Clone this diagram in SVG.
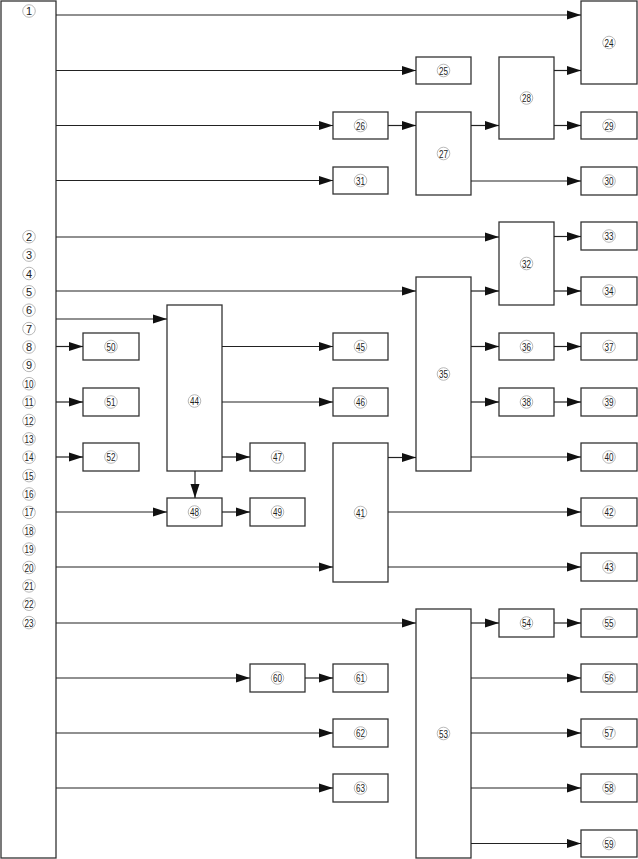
<svg xmlns="http://www.w3.org/2000/svg" width="638" height="859" viewBox="0 0 638 859">
<style>
rect{fill:#fff;stroke:#333;stroke-width:1.3}
circle{fill:none;stroke:#b0b0b0;stroke-width:0.9}
text{font-family:"Liberation Sans","DejaVu Sans",sans-serif;font-size:11px;fill:#222;text-anchor:middle}
#edges line{stroke:#222;stroke-width:1.2;marker-end:url(#ah)}
</style>
<defs>
<marker id="ah" markerUnits="userSpaceOnUse" markerWidth="14" markerHeight="10" refX="14" refY="5" orient="auto"><path d="M0,0.5 L14,5 L0,9.5 z" fill="#111"/></marker>
</defs>
<rect width="638" height="859" style="fill:#fff;stroke:none"/>
<g id="main">
<rect x="1" y="1" width="55" height="857"/>
<circle cx="29" cy="11" r="6.3"/><text x="29" y="15">1</text>
<circle cx="29" cy="236.7" r="6.3"/><text x="29" y="240.7">2</text>
<circle cx="29" cy="255.1" r="6.3"/><text x="29" y="259.1">3</text>
<circle cx="29" cy="273.5" r="6.3"/><text x="29" y="277.5">4</text>
<circle cx="29" cy="291.8" r="6.3"/><text x="29" y="295.8">5</text>
<circle cx="29" cy="310.2" r="6.3"/><text x="29" y="314.2">6</text>
<circle cx="29" cy="328.6" r="6.3"/><text x="29" y="332.6">7</text>
<circle cx="29" cy="347" r="6.3"/><text x="29" y="351">8</text>
<circle cx="29" cy="365.4" r="6.3"/><text x="29" y="369.4">9</text>
<circle cx="29" cy="383.7" r="6.3"/><text x="29" y="387.7" textLength="9" lengthAdjust="spacingAndGlyphs">10</text>
<circle cx="29" cy="402.1" r="6.3"/><text x="29" y="406.1" textLength="9" lengthAdjust="spacingAndGlyphs">11</text>
<circle cx="29" cy="420.5" r="6.3"/><text x="29" y="424.5" textLength="9" lengthAdjust="spacingAndGlyphs">12</text>
<circle cx="29" cy="438.9" r="6.3"/><text x="29" y="442.9" textLength="9" lengthAdjust="spacingAndGlyphs">13</text>
<circle cx="29" cy="457.2" r="6.3"/><text x="29" y="461.2" textLength="9" lengthAdjust="spacingAndGlyphs">14</text>
<circle cx="29" cy="475.6" r="6.3"/><text x="29" y="479.6" textLength="9" lengthAdjust="spacingAndGlyphs">15</text>
<circle cx="29" cy="494" r="6.3"/><text x="29" y="498" textLength="9" lengthAdjust="spacingAndGlyphs">16</text>
<circle cx="29" cy="512.4" r="6.3"/><text x="29" y="516.4" textLength="9" lengthAdjust="spacingAndGlyphs">17</text>
<circle cx="29" cy="530.7" r="6.3"/><text x="29" y="534.7" textLength="9" lengthAdjust="spacingAndGlyphs">18</text>
<circle cx="29" cy="549.1" r="6.3"/><text x="29" y="553.1" textLength="9" lengthAdjust="spacingAndGlyphs">19</text>
<circle cx="29" cy="567.5" r="6.3"/><text x="29" y="571.5" textLength="9" lengthAdjust="spacingAndGlyphs">20</text>
<circle cx="29" cy="585.9" r="6.3"/><text x="29" y="589.9" textLength="9" lengthAdjust="spacingAndGlyphs">21</text>
<circle cx="29" cy="604.2" r="6.3"/><text x="29" y="608.2" textLength="9" lengthAdjust="spacingAndGlyphs">22</text>
<circle cx="29" cy="622.6" r="6.3"/><text x="29" y="626.6" textLength="9" lengthAdjust="spacingAndGlyphs">23</text>
</g>
<g id="n24"><rect x="581" y="1" width="56" height="83"/><circle cx="609" cy="42.5" r="6.3"/><text x="609" y="46.5" textLength="9" lengthAdjust="spacingAndGlyphs">24</text></g>
<g id="n25"><rect x="416" y="57" width="55" height="27"/><circle cx="443.5" cy="70.5" r="6.3"/><text x="443.5" y="74.5" textLength="9" lengthAdjust="spacingAndGlyphs">25</text></g>
<g id="n26"><rect x="333" y="112" width="55" height="27"/><circle cx="360.5" cy="125.5" r="6.3"/><text x="360.5" y="129.5" textLength="9" lengthAdjust="spacingAndGlyphs">26</text></g>
<g id="n27"><rect x="416" y="112" width="55" height="83"/><circle cx="443.5" cy="153.5" r="6.3"/><text x="443.5" y="157.5" textLength="9" lengthAdjust="spacingAndGlyphs">27</text></g>
<g id="n28"><rect x="499" y="57" width="55" height="82"/><circle cx="526.5" cy="98" r="6.3"/><text x="526.5" y="102" textLength="9" lengthAdjust="spacingAndGlyphs">28</text></g>
<g id="n29"><rect x="581" y="112" width="56" height="27"/><circle cx="609" cy="125.5" r="6.3"/><text x="609" y="129.5" textLength="9" lengthAdjust="spacingAndGlyphs">29</text></g>
<g id="n30"><rect x="581" y="167" width="56" height="28"/><circle cx="609" cy="181" r="6.3"/><text x="609" y="185" textLength="9" lengthAdjust="spacingAndGlyphs">30</text></g>
<g id="n31"><rect x="333" y="167" width="55" height="27"/><circle cx="360.5" cy="180.5" r="6.3"/><text x="360.5" y="184.5" textLength="9" lengthAdjust="spacingAndGlyphs">31</text></g>
<g id="n32"><rect x="499" y="222" width="55" height="83"/><circle cx="526.5" cy="263.5" r="6.3"/><text x="526.5" y="267.5" textLength="9" lengthAdjust="spacingAndGlyphs">32</text></g>
<g id="n33"><rect x="581" y="222" width="56" height="28"/><circle cx="609" cy="236" r="6.3"/><text x="609" y="240" textLength="9" lengthAdjust="spacingAndGlyphs">33</text></g>
<g id="n34"><rect x="581" y="277" width="56" height="28"/><circle cx="609" cy="291" r="6.3"/><text x="609" y="295" textLength="9" lengthAdjust="spacingAndGlyphs">34</text></g>
<g id="n35"><rect x="416" y="277" width="55" height="194"/><circle cx="443.5" cy="374" r="6.3"/><text x="443.5" y="378" textLength="9" lengthAdjust="spacingAndGlyphs">35</text></g>
<g id="n36"><rect x="499" y="333" width="55" height="27"/><circle cx="526.5" cy="346.5" r="6.3"/><text x="526.5" y="350.5" textLength="9" lengthAdjust="spacingAndGlyphs">36</text></g>
<g id="n37"><rect x="581" y="333" width="56" height="27"/><circle cx="609" cy="346.5" r="6.3"/><text x="609" y="350.5" textLength="9" lengthAdjust="spacingAndGlyphs">37</text></g>
<g id="n38"><rect x="499" y="388" width="55" height="28"/><circle cx="526.5" cy="402" r="6.3"/><text x="526.5" y="406" textLength="9" lengthAdjust="spacingAndGlyphs">38</text></g>
<g id="n39"><rect x="581" y="388" width="56" height="28"/><circle cx="609" cy="402" r="6.3"/><text x="609" y="406" textLength="9" lengthAdjust="spacingAndGlyphs">39</text></g>
<g id="n40"><rect x="581" y="443" width="56" height="28"/><circle cx="609" cy="457" r="6.3"/><text x="609" y="461" textLength="9" lengthAdjust="spacingAndGlyphs">40</text></g>
<g id="n41"><rect x="333" y="443" width="55" height="139"/><circle cx="360.5" cy="512.5" r="6.3"/><text x="360.5" y="516.5" textLength="9" lengthAdjust="spacingAndGlyphs">41</text></g>
<g id="n42"><rect x="581" y="498" width="56" height="28"/><circle cx="609" cy="512" r="6.3"/><text x="609" y="516" textLength="9" lengthAdjust="spacingAndGlyphs">42</text></g>
<g id="n43"><rect x="581" y="553" width="56" height="28"/><circle cx="609" cy="567" r="6.3"/><text x="609" y="571" textLength="9" lengthAdjust="spacingAndGlyphs">43</text></g>
<g id="n44"><rect x="167" y="305" width="55" height="166"/><circle cx="194.5" cy="401" r="6.3"/><text x="194.5" y="405" textLength="9" lengthAdjust="spacingAndGlyphs">44</text></g>
<g id="n45"><rect x="333" y="333" width="55" height="27"/><circle cx="360.5" cy="346.5" r="6.3"/><text x="360.5" y="350.5" textLength="9" lengthAdjust="spacingAndGlyphs">45</text></g>
<g id="n46"><rect x="333" y="388" width="55" height="28"/><circle cx="360.5" cy="402" r="6.3"/><text x="360.5" y="406" textLength="9" lengthAdjust="spacingAndGlyphs">46</text></g>
<g id="n47"><rect x="250" y="443" width="55" height="28"/><circle cx="277.5" cy="457" r="6.3"/><text x="277.5" y="461" textLength="9" lengthAdjust="spacingAndGlyphs">47</text></g>
<g id="n48"><rect x="167" y="498" width="55" height="28"/><circle cx="194.5" cy="512" r="6.3"/><text x="194.5" y="516" textLength="9" lengthAdjust="spacingAndGlyphs">48</text></g>
<g id="n49"><rect x="250" y="498" width="55" height="28"/><circle cx="277.5" cy="512" r="6.3"/><text x="277.5" y="516" textLength="9" lengthAdjust="spacingAndGlyphs">49</text></g>
<g id="n50"><rect x="83" y="333" width="56" height="27"/><circle cx="111" cy="346.5" r="6.3"/><text x="111" y="350.5" textLength="9" lengthAdjust="spacingAndGlyphs">50</text></g>
<g id="n51"><rect x="83" y="388" width="56" height="28"/><circle cx="111" cy="402" r="6.3"/><text x="111" y="406" textLength="9" lengthAdjust="spacingAndGlyphs">51</text></g>
<g id="n52"><rect x="83" y="443" width="56" height="28"/><circle cx="111" cy="457" r="6.3"/><text x="111" y="461" textLength="9" lengthAdjust="spacingAndGlyphs">52</text></g>
<g id="n53"><rect x="416" y="609" width="55" height="249"/><circle cx="443.5" cy="733.5" r="6.3"/><text x="443.5" y="737.5" textLength="9" lengthAdjust="spacingAndGlyphs">53</text></g>
<g id="n54"><rect x="499" y="609" width="55" height="28"/><circle cx="526.5" cy="623" r="6.3"/><text x="526.5" y="627" textLength="9" lengthAdjust="spacingAndGlyphs">54</text></g>
<g id="n55"><rect x="581" y="609" width="56" height="28"/><circle cx="609" cy="623" r="6.3"/><text x="609" y="627" textLength="9" lengthAdjust="spacingAndGlyphs">55</text></g>
<g id="n56"><rect x="581" y="664" width="56" height="28"/><circle cx="609" cy="678" r="6.3"/><text x="609" y="682" textLength="9" lengthAdjust="spacingAndGlyphs">56</text></g>
<g id="n57"><rect x="581" y="719" width="56" height="28"/><circle cx="609" cy="733" r="6.3"/><text x="609" y="737" textLength="9" lengthAdjust="spacingAndGlyphs">57</text></g>
<g id="n58"><rect x="581" y="774" width="56" height="28"/><circle cx="609" cy="788" r="6.3"/><text x="609" y="792" textLength="9" lengthAdjust="spacingAndGlyphs">58</text></g>
<g id="n59"><rect x="581" y="830" width="56" height="27"/><circle cx="609" cy="843.5" r="6.3"/><text x="609" y="847.5" textLength="9" lengthAdjust="spacingAndGlyphs">59</text></g>
<g id="n60"><rect x="250" y="664" width="55" height="28"/><circle cx="277.5" cy="678" r="6.3"/><text x="277.5" y="682" textLength="9" lengthAdjust="spacingAndGlyphs">60</text></g>
<g id="n61"><rect x="333" y="664" width="55" height="28"/><circle cx="360.5" cy="678" r="6.3"/><text x="360.5" y="682" textLength="9" lengthAdjust="spacingAndGlyphs">61</text></g>
<g id="n62"><rect x="333" y="719" width="55" height="28"/><circle cx="360.5" cy="733" r="6.3"/><text x="360.5" y="737" textLength="9" lengthAdjust="spacingAndGlyphs">62</text></g>
<g id="n63"><rect x="333" y="774" width="55" height="28"/><circle cx="360.5" cy="788" r="6.3"/><text x="360.5" y="792" textLength="9" lengthAdjust="spacingAndGlyphs">63</text></g>
<g id="edges">
<line x1="56" y1="15" x2="581" y2="15"/>
<line x1="56" y1="70.5" x2="416" y2="70.5"/>
<line x1="56" y1="125.5" x2="333" y2="125.5"/>
<line x1="388" y1="125.5" x2="416" y2="125.5"/>
<line x1="471" y1="125.5" x2="499" y2="125.5"/>
<line x1="554" y1="70.5" x2="581" y2="70.5"/>
<line x1="554" y1="125.5" x2="581" y2="125.5"/>
<line x1="471" y1="181" x2="581" y2="181"/>
<line x1="56" y1="180.5" x2="333" y2="180.5"/>
<line x1="56" y1="237" x2="499" y2="237"/>
<line x1="554" y1="236.5" x2="581" y2="236.5"/>
<line x1="554" y1="291" x2="581" y2="291"/>
<line x1="56" y1="291" x2="416" y2="291"/>
<line x1="471" y1="291" x2="499" y2="291"/>
<line x1="56" y1="319" x2="167" y2="319"/>
<line x1="56" y1="346.5" x2="83" y2="346.5"/>
<line x1="56" y1="402" x2="83" y2="402"/>
<line x1="56" y1="457" x2="83" y2="457"/>
<line x1="222" y1="346.5" x2="333" y2="346.5"/>
<line x1="222" y1="402" x2="333" y2="402"/>
<line x1="222" y1="457" x2="250" y2="457"/>
<line x1="195" y1="471" x2="195" y2="498"/>
<line x1="56" y1="512" x2="167" y2="512"/>
<line x1="222" y1="512" x2="250" y2="512"/>
<line x1="471" y1="346.5" x2="499" y2="346.5"/>
<line x1="554" y1="346.5" x2="581" y2="346.5"/>
<line x1="471" y1="402" x2="499" y2="402"/>
<line x1="554" y1="402" x2="581" y2="402"/>
<line x1="471" y1="457" x2="581" y2="457"/>
<line x1="388" y1="457.5" x2="416" y2="457.5"/>
<line x1="388" y1="512" x2="581" y2="512"/>
<line x1="388" y1="567" x2="581" y2="567"/>
<line x1="56" y1="567" x2="333" y2="567"/>
<line x1="56" y1="623" x2="416" y2="623"/>
<line x1="471" y1="623" x2="499" y2="623"/>
<line x1="554" y1="623" x2="581" y2="623"/>
<line x1="471" y1="678" x2="581" y2="678"/>
<line x1="471" y1="733" x2="581" y2="733"/>
<line x1="471" y1="788" x2="581" y2="788"/>
<line x1="471" y1="843.5" x2="581" y2="843.5"/>
<line x1="56" y1="678" x2="250" y2="678"/>
<line x1="305" y1="678" x2="333" y2="678"/>
<line x1="56" y1="733" x2="333" y2="733"/>
<line x1="56" y1="788" x2="333" y2="788"/>
</g>
</svg>
